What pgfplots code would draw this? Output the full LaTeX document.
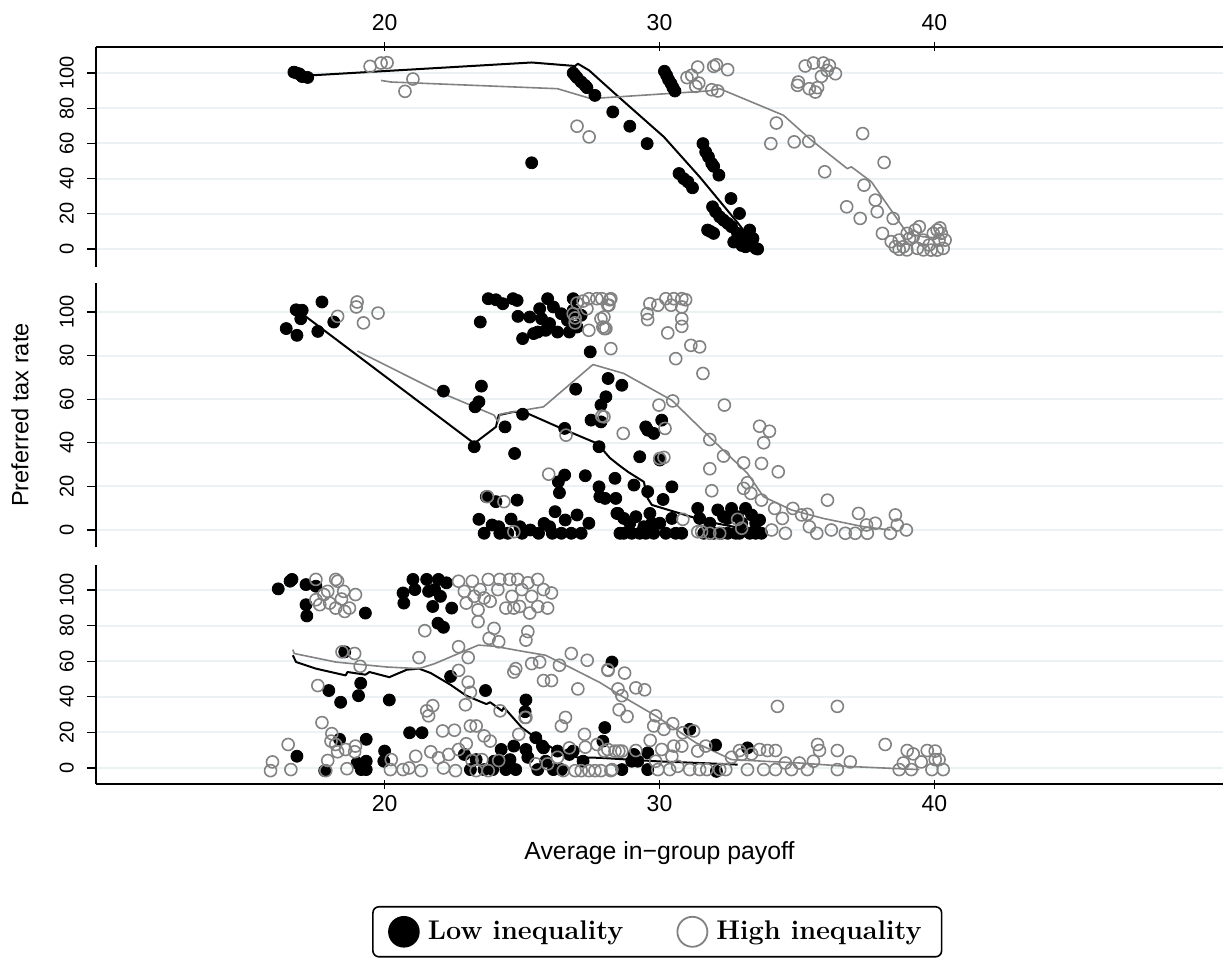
\documentclass[border=0pt]{standalone}
\usepackage{fontspec}
\newfontfamily\arial{Liberation Sans}
\usepackage{pgfplots}
\pgfplotsset{compat=1.18}
\definecolor{higray}{RGB}{130,130,130}
\definecolor{gridc}{RGB}{234,242,243}

\pgfplotsset{
  panel/.style={
    scale only axis, width=563.5pt,
    xmin=9.5, xmax=50.5,
    xtick={20,30,40}, ytick={0,20,40,60,80,100},
    axis y line=left,
    ymajorgrids, grid style={gridc, line width=1pt},
    tick align=outside, major tick length=4.5pt,
    tick style={black, line width=0.6pt},
    xticklabel style={font=\arial\fontsize{11.5}{12}\selectfont},
    yticklabel style={font=\arial\fontsize{10}{11}\selectfont, rotate=90, anchor=south, yshift=3pt},
    /pgf/number format/assume math mode=true,
  },
  lines/.style={axis line style={-, line width=0.7pt}},
  lo/.style={only marks, mark=*, mark size=3pt, mark options={fill=black, draw=black}, forget plot},
  hi/.style={only marks, mark=o, mark size=3pt, mark options={draw=higray, line width=0.8pt}, forget plot},
  loline/.style={no markers, black, line width=1pt, line join=round, forget plot},
  hiline/.style={no markers, higray, line width=0.8pt, line join=round, forget plot},
}

\begin{document}
\begin{tikzpicture}
\useasboundingbox (0,0) rectangle (612.5pt,-481pt);

% top panel
\begin{axis}[panel, at={(48pt,-23.5pt)}, anchor=north west, height=110pt,
  ymin=-10.2, ymax=114.8, axis x line=top, lines,
  xticklabel style={yshift=2.5pt}]
\addplot[lo] coordinates {
(16.7,100.5)(16.8,100)(16.9,99.5)(17.0,98)(17.2,97.5)(25.35,49)(26.86,100)(26.93,98.7)(27.0,97.4)(27.15,95)
(27.29,93)(27.36,91.7)(27.65,87.3)(28.3,77.9)(28.92,69.8)(29.55,59.9)(30.18,101)(30.26,98.7)(30.33,96.2)(30.42,94)
(30.49,91.7)(30.56,89.8)(31.58,59.9)(31.68,55.2)(31.78,52.4)(31.9,48.6)(31.97,47)(32.16,42)(30.71,42.9)(30.88,40)
(31.03,38.2)(31.2,34.8)(32.6,28.7)(32.91,20.2)(31.93,24)(32.04,21.2)(32.19,18.3)(32.33,16.4)(32.48,14.6)(32.62,12.7)
(31.75,10.8)(31.97,8.9)(32.84,8.9)(33.06,5.1)(33.2,3.2)(33.35,2.3)(33.5,0.4)(33.28,10.8)(33.13,1.3)(33.57,0)
(32.99,7)(31.85,10)(32.7,4)(33.4,6)(33.0,2)
};
\addplot[hi] coordinates {
(19.47,103.8)(19.87,105.7)(20.09,105.9)(21.03,96.6)(20.74,89.6)(27.0,69.8)(27.44,63.7)(31.0,97.4)(31.17,98.7)(31.39,103.4)
(31.43,94.3)(31.32,92.4)(31.97,103.8)(32.07,104.7)(32.48,101.9)(31.9,90.5)(32.12,89.8)(35.05,94.9)(35.02,93)(35.45,91.1)
(35.67,89.2)(35.6,105.7)(35.96,105.7)(36.18,104.3)(36.4,99.6)(35.89,98.1)(35.75,91.7)(34.25,71.6)(34.05,59.9)(34.9,60.9)
(35.43,61.2)(36.01,43.9)(37.39,65.6)(38.17,49.2)(37.44,36.3)(36.81,24)(37.3,17.4)(37.85,27.8)(37.92,21.2)(38.5,17.4)
(38.11,8.9)(38.43,4.2)(38.72,-0.2)(38.87,1.3)(39.09,6)(39.3,10.8)(39.01,8.9)(39.38,0.4)(39.59,5.1)(39.81,2.3)
(39.96,8.9)(40.1,10.8)(40.17,5.1)(40.1,-0.6)(40.32,0.4)(40.39,5.1)(40.25,8.9)(39.88,-0.6)(39.45,12.7)(39.23,7)
(38.72,5.1)(38.58,1.3)(40.2,12)(39.0,-0.5)(39.6,-0.5)(36.1,101.5)(35.3,104)
};
\addplot[loline] coordinates {
(17.35,98.7)(25.35,106)(26.93,104)(27.03,105.3)(27.44,101.5)(27.83,96)(28.45,87.3)(30.16,63.7)(31.46,41)(32.84,15)(33.57,0.4)
};
\addplot[hiline] coordinates {
(19.87,95.8)(20.23,94.9)(26.29,91.1)(27.58,85.1)(27.83,85.8)(31.75,89.8)(32.19,91.1)(34.51,76)(35.53,61.8)(36.83,45.7)
(36.98,46.7)(37.71,38.2)(39.01,8.9)(39.59,7)(40.32,6)
};
\end{axis}

% middle panel
\begin{axis}[panel, at={(48pt,-141.5pt)}, anchor=north west, height=132pt,
  ymin=-7.8, ymax=113.3, axis x line=none, lines,
  ylabel={Preferred tax rate},
  every axis y label/.style={at={(axis description cs:-0.0674,0.5)}, rotate=90, anchor=center,
    font=\arial\fontsize{11.8}{13}\selectfont}]
\addplot[lo] coordinates {
(16.42,92.4)(16.81,89.3)(16.78,101)(17.0,100.8)(16.95,96.9)(17.72,104.6)(17.57,91.1)(18.15,95.4)
(22.14,63.7)(23.26,38.2)(23.48,95.4)(23.52,66)(23.43,58.8)(23.29,56.5)(24.38,47.3)(24.73,35.1)(25.02,53.1)
(23.77,106.1)(24.05,105.6)(24.3,103.8)(24.67,106.1)(24.82,105.3)(24.85,98)(25.02,87.8)(25.42,90.1)(25.64,101.5)(25.71,96.9)
(25.93,106.1)(26.0,94.7)(26.14,102.3)(26.43,99.2)(26.65,96.2)(26.72,90.8)(26.86,106.1)(27.0,93.1)(27.15,98.5)(25.86,91.6)
(25.57,90.8)(26.86,100.8)(26.29,90.8)(25.28,97.7)
(27.48,81.7)(26.95,64.6)(28.13,69.5)(28.05,61.1)(27.87,57.3)(27.51,50.4)(27.87,49.6)(26.55,46.6)(27.8,38.2)
(23.7,15.3)(23.43,4.9)(23.62,-1.5)(23.91,2.3)(24.05,13)(24.19,-1.5)(24.48,-1.5)(24.82,13.7)(24.92,1.5)(26.0,1.5)
(26.2,8.4)(26.43,-1.5)(26.57,4.6)(26.79,-1.5)(27.0,6.9)(27.15,-1.5)(27.43,3.1)(26.36,17.1)(26.32,22.1)(26.55,25.2)
(27.3,24.9)(27.8,19.8)(28.38,23.7)(28.02,14.5)(28.45,7.6)(24.15,1.5)
(28.63,66.4)(29.57,45.8)(30.08,50.4)(29.5,47.3)(29.79,44.3)(29.28,33.6)(30.01,32.1)(29.07,20.6)(30.45,19.8)(29.57,17.6)
(30.13,14)(28.41,14.5)(27.83,15.3)
(28.49,7.6)(28.7,-1.5)(28.92,3.1)(29.14,6.1)(29.28,-1.5)(29.43,1.5)(29.65,7.6)(29.79,-1.5)(30.01,3.1)(30.23,-1.5)
(30.45,5.3)(30.81,-1.5)(31.39,9.9)(31.61,-1.5)(31.83,3.1)(32.12,9.2)(32.26,-1.5)(32.48,5.3)(32.62,9.9)(32.77,-1.5)
(32.99,3.1)(33.13,9.9)(33.28,-1.5)(33.5,3.1)(33.71,-1.5)(33.64,4.6)(28.56,-1.5)(28.99,-1.5)(29.5,-1.5)(30.59,-1.5)
(31.97,-1.5)(32.48,-1.5)(32.91,-1.5)(33.5,-1.5)(29.72,3.1)(28.7,5.3)(32.33,6.1)(31.46,5.3)(33.35,6.9)(32.84,6.1)
(25.3,0)(25.6,-1.5)(25.8,3)(26.1,-1.5)(24.6,5)(25.0,-1.5)
};
\addplot[hi] coordinates {
(19.0,104.6)(18.97,102.3)(19.23,95)(19.76,99.5)(18.29,98)(23.74,15.3)(24.34,13)(24.7,-0.8)(25.97,25.6)(26.6,43.5)(27.9,52.2)
(27.0,104.1)(27.22,105)(27.43,106.1)(27.72,106.1)(28.23,106.1)(28.16,103.1)(27.36,101.5)(26.86,99.2)(26.93,95)(26.93,97.3)
(27.43,91.6)(27.87,96.9)(27.99,92.4)(28.23,83.2)(27.94,93.1)
(27.9,106.1)(28.19,105.6)(28.12,103.1)(27.98,97.7)(28.05,92.4)(29.65,103.8)(29.94,103.1)(29.55,99.2)(29.57,96.5)(30.23,106.1)
(30.52,106.1)(30.81,106.1)(30.95,105.6)(30.42,103.1)(30.81,102.3)(30.81,96.9)(30.81,93.4)(30.3,90.4)(31.14,84.7)(31.46,84)
(30.59,78.6)(31.58,71.8)(30.48,59.2)(29.98,57.3)(32.36,57.3)(30.2,46.6)(28.68,44.3)(30.16,33.3)(33.64,47.6)(34.0,45.3)
(33.79,40)(31.83,41.5)(32.33,33.9)(33.06,30.8)(33.71,30.5)(34.32,26.7)(31.83,28.1)(31.9,18)(33.2,21.7)(33.06,19.1)
(33.32,16.8)(33.71,13.7)(34.19,9.9)(34.47,5.3)(34.85,9.9)(35.17,6.9)(35.38,7.2)(36.11,13.7)(35.45,1.5)(35.72,-1.5)
(36.25,0)(36.76,-1.5)(37.12,-1.5)(37.24,7.6)(37.53,2.3)(37.85,3.1)(37.56,-1.5)(38.4,-1.5)(38.58,6.9)(38.65,2.3)
(38.98,0)(30.85,4.9)(31.53,-0.8)(31.83,-1.5)(32.19,-1.5)(32.84,4.9)(32.99,0.8)(34.08,0)(34.58,-1.5)(31.39,-0.8)
(30.01,32.8)(27.98,51.9)
};
\addplot[loline] coordinates {
(17.07,98.5)(23.26,39.7)(24.05,47.3)(24.15,52.7)(24.7,54.2)(25.21,53.4)(26.43,46.6)(27.73,39.7)(28.2,33)(28.5,30)
(28.85,26.7)(29.43,22.1)(29.57,14.5)(29.72,11.5)(31.75,3.8)(32.99,0.8)
};
\addplot[hiline] coordinates {
(19.01,82.1)(21.97,63.4)(23.98,52.7)(24.13,49.6)(24.2,53.1)(24.7,54.2)(25.78,56.5)(27.58,75.9)(28.7,71.8)(30.45,59.5)
(31.75,43.5)(33.2,26)(33.78,15.3)(34.8,9.2)(35.96,5.3)(37.42,1.5)(38.4,0)
};
\end{axis}

% bottom panel
\begin{axis}[panel, at={(48pt,-282.5pt)}, anchor=north west, height=109.5pt,
  ymin=-9, ymax=114, axis x line=bottom, lines,
  xlabel={Average in−group payoff},
  every axis x label/.style={at={(axis description cs:0.5,-0.315)}, anchor=center,
    font=\arial\fontsize{12.4}{14}\selectfont},
  legend columns=2,
  legend style={at={(0.498,-0.557)}, anchor=north, draw=black, line width=0.8pt,
    rounded corners=3pt, font=\bfseries\fontsize{13.5}{15}\selectfont,
    inner xsep=8pt, inner ysep=5pt,
    /tikz/every odd column/.append style={column sep=2.5pt},
    /tikz/every even column/.append style={column sep=25pt}},
]
\addlegendimage{only marks, mark=*, mark size=7.5pt, mark options={fill=black, draw=black}}
\addlegendentry{Low inequality}
\addlegendimage{only marks, mark=o, mark size=7.5pt, mark options={draw=higray, line width=0.9pt}}
\addlegendentry{High inequality}
\addplot[lo] coordinates {
(16.13,100.6)(16.56,104.9)(16.63,105.9)(17.14,103)(17.5,102.1)(17.14,91.7)(17.17,85.4)(19.3,87)(16.81,6.6)
(20.67,98.3)(20.7,92.6)(21.03,105.9)(21.1,100.2)(21.53,105.9)(21.6,99.2)(21.75,90.7)(21.96,105.9)(22.03,96.4)(22.25,104)
(22.44,89.8)(21.94,81.3)(22.14,79)(21.82,100.2)
(18.55,65.2)(17.97,43.5)(18.4,36.9)(19.05,40.6)(19.13,47.6)(20.17,38.2)(22.4,51.4)(23.67,43.5)(25.14,38.2)(25.11,31.6)
(25.5,17)(25.74,12.3)(20.91,19.8)(21.36,19.8)(19.33,16.1)(18.36,16.1)(20.0,9.5)(19.97,3.8)(19.0,2.8)(19.33,3.8)
(19.15,-0.9)(19.33,-0.9)(17.82,-1.5)
(22.9,7.6)(23.12,-0.9)(23.33,4.7)(23.62,-0.9)(23.98,3.8)(24.24,10.4)(24.41,-0.9)(24.7,12.3)(24.77,-0.9)(25.14,10.4)
(25.21,6)(25.57,-0.9)(25.78,11.3)(25.86,3.8)(26.29,9.5)(26.43,-0.9)(26.72,7.6)(26.86,9.5)(27.22,3.8)(23.93,-0.9)
(26.14,-0.9)(24.56,4.7)(24.2,3.8)(28.27,59.5)(28.01,22.7)(27.94,15.1)
(28.63,-0.9)(29.07,7.6)(29.21,3.8)(29.57,8.5)(29.57,-0.9)(31.1,21.7)(32.04,12.9)(32.07,-1.9)(33.2,11.3)(28.99,3.8)
};
\addplot[hi] coordinates {
(17.5,105.9)(17.93,99.2)(18.22,105.9)(18.29,104.9)(17.64,91.7)(18.0,92.6)(18.22,89.8)(18.43,94.9)(18.55,87.9)(18.72,89.8)
(18.94,97.4)(17.5,94.5)(17.79,97.4)(18.51,99.2)
(22.69,104.9)(22.9,99.2)(22.97,92.6)(23.19,104.9)(23.26,96.4)(23.4,88.8)(23.47,100.2)(23.77,105.9)(23.84,93.6)(24.12,100.2)
(24.19,105.9)(24.41,89.8)(24.55,105.9)(24.63,96.4)(24.84,105.9)(24.91,90.7)(24.99,100.2)(25.21,104)(25.28,87)(25.35,96.4)
(25.57,105.9)(25.57,90.7)(25.78,100.2)(25.93,89.8)(26.07,98.3)(23.4,82.2)(23.98,78.4)(23.8,72.8)(24.15,70.9)(25.21,76.6)
(25.14,71.8)(22.69,68.1)(23.04,62)(21.25,62)(21.46,77.1)(23.62,95.5)(24.7,89.8)
(18.45,65.2)(18.91,64.3)(19.11,57.1)(17.57,46.3)(22.69,54.8)(23.04,48.2)(23.12,42.5)(22.94,35.5)(21.75,35)(21.53,32.1)
(21.6,29.3)(24.2,32.1)(25.14,28.4)(24.7,53.9)(24.77,55.8)(25.35,58.6)(25.64,59.5)(25.78,49.1)(26.07,49.1)(26.36,57.7)
(26.79,64.3)(27.03,44.4)(27.37,60.5)(28.13,54.8)(26.43,23.6)(26.58,28.4)(27.27,18.9)(27.73,13.2)(27.99,9.5)(28.52,9.5)
(17.72,25.5)(18.08,19.3)(18.05,15.1)(18.22,13.2)(18.29,9.1)(18.58,10.4)(18.94,12.3)(18.91,9.1)(16.49,13.2)(15.92,3.4)
(15.85,-1.5)(16.59,-0.9)(17.93,4.2)(17.86,-1.5)(18.63,-0.4)(20.24,4.7)(20.21,-0.9)(20.67,-0.9)(20.89,0)(21.13,6.6)
(21.33,-1.5)(21.68,9.1)(21.96,5.7)(22.11,20.8)(22.54,21.2)(22.14,0)(22.33,7.6)(22.69,10.4)(22.58,-1.5)(22.97,13.6)
(23.12,23.6)(23.33,23.6)(23.62,18)(23.84,15.1)(23.18,4.2)(23.54,4.7)(23.33,-1.5)(23.77,-1.5)(24.15,4.2)(24.88,18.9)
(25.11,28.4)(25.5,2.3)(25.93,2.3)(26.29,6)(26.5,-1.5)(26.72,11.3)(26.93,-1.5)(27.15,-1.5)(27.43,-1.5)(27.65,-1.5)
(27.3,11.7)(27.87,-1.5)(28.23,-1.5)(28.38,9.5)
(28.12,55.2)(28.73,53.3)(28.49,44.4)(28.63,40.6)(29.14,45)(29.46,43.9)(28.53,32.7)(28.82,28.9)(29.86,29.3)(29.79,23.6)
(30.16,21.7)(30.48,24.9)(30.85,19.8)(31.24,20.8)(29.66,15.5)(34.29,34.6)(36.47,34.6)(38.21,13.2)(28.12,10.4)(28.63,9.5)
(29.14,9.8)(30.08,10.4)(30.52,12.3)(30.81,12.3)(31.39,9.5)(31.68,12.3)(30.45,6.6)(29.86,3.8)(28.27,-0.9)(29.94,-0.9)
(30.37,-0.9)(30.66,0.9)(31.1,-0.9)(31.46,-0.9)(31.72,-0.9)(32.19,-0.9)(32.41,-0.9)(32.62,6)(32.91,9.8)(32.99,7.6)
(33.2,-0.9)(33.35,7.9)(33.64,10.4)(33.93,9.8)(34.22,9.8)(33.79,-0.9)(34.22,-0.9)(34.58,2.8)(34.8,-0.9)(35.09,2.8)
(35.38,-0.9)(35.6,3.8)(35.75,13.2)(35.82,9.8)(36.47,9.8)(36.47,-0.9)(36.94,3.4)(39.01,9.8)(39.23,7.9)(38.87,2.8)
(38.72,-0.9)(39.16,-0.9)(39.52,3.4)(39.74,9.8)(40.03,9.5)(39.91,-0.9)(40.17,4.7)(40.32,-0.9)(40.03,4.7)
};
\addplot[loline] coordinates {
(16.66,63.3)(16.78,59.5)(17.5,55.8)(18.58,52)(18.65,53.9)(19.3,52.4)(19.45,53.9)(20.17,51)(20.81,55.2)(21.25,55.8)
(21.68,53.3)(22.4,46.7)(22.97,40.6)(23.7,35.9)(23.84,36.9)(24.27,32.1)(24.34,34)(24.99,22.7)(25.57,16.1)(26.29,9.5)
(27.0,6)(27.83,5.7)(29.86,3.8)(32.84,1.9)
};
\addplot[hiline] coordinates {
(16.66,66.5)(16.71,64.3)(18.22,59.5)(20.09,56.7)(21.25,55.8)(21.82,58.6)(23.41,69)(23.98,68.4)(24.99,65.6)(25.86,63.3)
(26.72,56.7)(27.83,48)(28.56,41)(29.86,29.3)(31.32,14.2)(32.62,4.7)(35.09,2.8)(36.83,0.9)(39.45,-0.9)
};
\end{axis}
\end{tikzpicture}
\end{document}
